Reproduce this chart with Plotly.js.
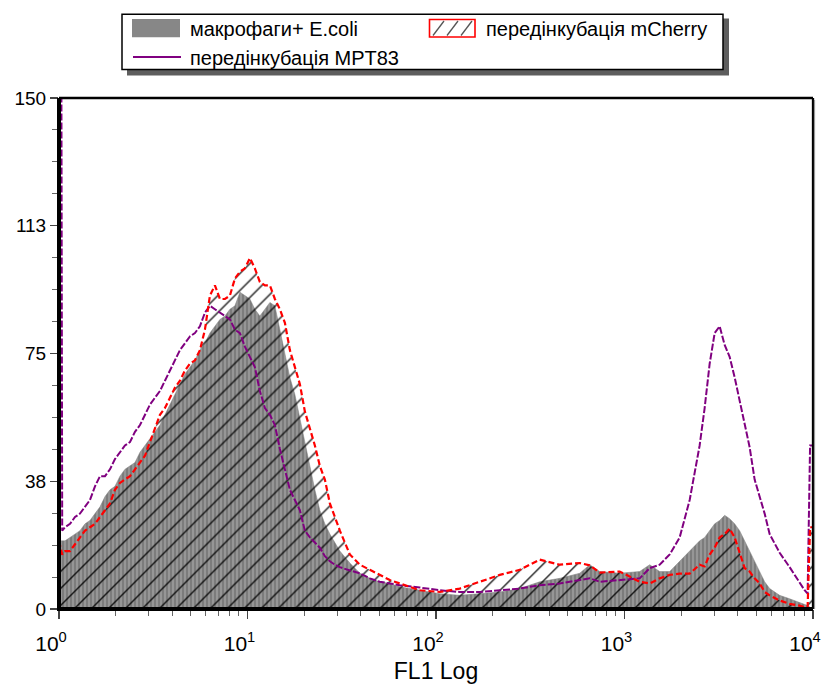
<!DOCTYPE html>
<html>
<head>
<meta charset="utf-8">
<script src="https://cdn.plot.ly/plotly-3.0.1.min.js"></script>
<style>
html,body{margin:0;padding:0;background:#fff;}
#chart{width:822px;height:684px;}
</style>
</head>
<body>
<div id="chart"></div>
<script>
// FL1 channel intensity (log scale)
var fl1 = [1.00, 1.03, 1.04, 1.076, 1.144, 1.216, 1.292, 1.374, 1.460, 1.552, 1.650, 1.754, 1.864, 1.981, 2.106, 2.238, 2.379, 2.529, 2.689, 2.858, 3.038, 3.228, 3.432, 3.648, 3.877, 4.122, 4.381, 4.657, 4.950, 5.262, 5.593, 5.945, 6.319, 6.717, 7.140, 7.590, 8.067, 8.575, 9.115, 9.687, 10.30, 10.94, 11.63, 12.37, 13.15, 13.97, 14.85, 15.79, 16.78, 17.84, 18.96, 20.15, 21.42, 22.77, 24.20, 25.73, 27.35, 29.07, 30.90, 34.91, 39.45, 44.57, 50.35, 56.89, 64.28, 82.06, 104.8, 133.7, 170.7, 217.9, 278.2, 355.2, 453.4, 578.9, 654.0, 738.8, 943.0, 1204, 1360, 1537, 1737, 1962, 2217, 2504, 2662, 2830, 3008, 3197, 3399, 3613, 3840, 4082, 4339, 4612, 4902, 5212, 5540, 5889, 6653, 7515, 8492, 9027, 9363, 9650, 10000];

// макрофаги+ E.coli (grey filled histogram)
var ecoli = [20, 20, 20, 20, 21, 22, 23, 25, 26, 28, 30, 33, 35, 36, 39, 41, 42, 43, 46, 48, 50, 52, 54, 57, 60, 63, 66, 69, 71, 73, 76, 78, 81, 83, 85, 86, 88, 89, 93, 92, 91, 88, 86, 88, 90, 89, 82, 75, 68, 63, 56, 49, 43, 35, 29, 25, 22, 19.5, 17, 13.5, 10.5, 9, 8, 7.5, 6.5, 5.5, 4.5, 4, 4.5, 5, 6, 8, 9, 10.5, 13, 11, 10.5, 11, 13, 11, 11, 14, 17, 20, 21, 23, 25, 26, 27.5, 26.5, 25, 23, 20, 17, 14, 11, 8, 6, 4, 3, 2, 1.5, 1, 0.5, 0];

// передінкубація mCherry (red outline, hatched)
var mcherry = [20, 17, 16, 17, 17, 19, 21, 23, 24, 25, 27, 29, 31, 35, 37, 38, 39, 41, 43, 45, 49, 53, 57, 59, 62, 65, 67, 70, 72, 73, 76, 82, 92, 95, 91, 91, 92, 97, 99, 100, 103, 100, 96, 95, 95, 91, 88, 84, 76, 71, 66, 58, 53, 48, 42, 38, 31, 27, 23, 16, 13, 11.5, 10, 8.5, 7.5, 5.5, 5, 6, 8, 10, 11.5, 14.5, 13, 13.5, 12.8, 10.7, 11, 8, 7.5, 9, 10, 10.4, 10.4, 13, 12.5, 16, 18, 21, 22, 23.6, 21, 16.3, 12, 11, 9, 7.5, 5, 4, 2.5, 1.5, 1, 0.5, 0.5, 24, 24];

// передінкубація MPT83 (purple line)
var mpt83 = [150, 150, 23, 24, 25, 27, 28, 30, 32, 36, 39, 39, 41, 44, 46, 48, 49, 52, 54, 57, 60, 62, 64, 67, 70, 73, 76, 78, 80, 81, 83, 87, 89, 88, 87, 86, 85, 82, 81, 77, 74, 71, 64, 59, 57, 54, 47, 41, 35, 32, 29, 23, 21, 19.5, 18, 15.5, 14, 13, 12.3, 11.3, 10.5, 9, 8, 7.5, 7, 6.3, 5.5, 5, 5, 5.5, 6, 7, 7.5, 8.5, 9, 8, 8.5, 9, 12, 13, 16, 21, 32, 48, 59, 72, 81, 83, 77.5, 74, 68, 61, 55, 47.5, 38, 33, 28, 22, 16.5, 12.3, 7.5, 5.5, 4.5, 48, 48];

var seriesNames = ['макрофаги+ E.coli', 'передінкубація mCherry', 'передінкубація MPT83'];
var xTickVals = [1, 10, 100, 1000, 10000];
var xTickText = ['10<sup>0</sup>', '10<sup>1</sup>', '10<sup>2</sup>', '10<sup>3</sup>', '10<sup>4</sup>'];
var yTickVals = [0, 37.5, 75, 112.5, 150];
var yTickText = ['0', '38', '75', '113', '150'];
var xTitle = 'FL1 Log';

// minor ticks (axis decoration)
var xMinor = [];
for (var d = 1; d < 10000; d *= 10) { for (var k = 2; k <= 9; k++) xMinor.push(d * k); }
var yMinor = [];
for (var v = 9.375; v < 150; v += 9.375) { if (Math.abs(v % 37.5) > 0.01) yMinor.push(v); }

// layout geometry (pixels) -> paper coords
var L = 59, R = 9, T = 98, B = 75, W = 822, H = 684;
var PW = W - L - R, PH = H - T - B;
function PX(px) { return (px - L) / PW; }
function PY(py) { return (H - B - py) / PH; }

var FONT = 'Liberation Sans, Arial, Helvetica, sans-serif';

var traces = [
  {
    type: 'scatter', mode: 'lines', x: fl1, y: ecoli, name: seriesNames[0],
    fill: 'tozeroy', fillcolor: '#808080',
    fillpattern: {shape: '|', bgcolor: '#7c7c7c', fgcolor: '#a8a8a8', size: 4, solidity: 0.3},
    line: {color: '#808080', width: 0.5}, showlegend: false, hoverinfo: 'skip'
  },
  {
    type: 'scatter', mode: 'lines', x: fl1, y: mcherry, name: seriesNames[1],
    fill: 'tozeroy', fillcolor: 'rgba(0,0,0,0)',
    fillpattern: {shape: '/', bgcolor: 'rgba(0,0,0,0)', fgcolor: '#000000', fgopacity: 0.85, size: 12, solidity: 0.12},
    line: {width: 0}, showlegend: false, hoverinfo: 'skip'
  },
  {
    type: 'scatter', mode: 'lines', x: fl1, y: mpt83, name: seriesNames[2],
    line: {color: '#800080', width: 2, dash: '7px,2px'}, showlegend: false, hoverinfo: 'skip'
  },
  {
    type: 'scatter', mode: 'lines', x: fl1, y: mcherry, name: seriesNames[1] + ' outline',
    line: {color: '#ff0000', width: 2.2, dash: '6px,3px'}, showlegend: false, hoverinfo: 'skip'
  }
];

var shapes = [
  // plot frame
  {type: 'line', xref: 'paper', yref: 'paper', x0: 0, x1: 0, y0: -0.004, y1: 1, line: {color: '#000', width: 4}, layer: 'above'},
  {type: 'line', xref: 'paper', yref: 'paper', x0: 0, x1: 1, y0: 0, y1: 0, line: {color: '#000', width: 4}, layer: 'above'},
  {type: 'line', xref: 'paper', yref: 'paper', x0: 0, x1: 1, y0: 1, y1: 1, line: {color: '#000', width: 2.3}, layer: 'above'},
  {type: 'line', xref: 'paper', yref: 'paper', x0: 1, x1: 1, y0: 0, y1: 1, line: {color: '#000', width: 2.3}, layer: 'above'},
  {type: 'line', xref: 'paper', yref: 'paper', x0: PX(814.5), x1: PX(814.5), y0: 0, y1: PY(100), line: {color: '#9a9a9a', width: 1.2}, layer: 'above'},
  // legend shadow and box
  {type: 'rect', xref: 'paper', yref: 'paper', x0: PX(127), x1: PX(729), y0: PY(75.5), y1: PY(18.5), fillcolor: '#5e5e5e', line: {width: 0}, layer: 'above'},
  {type: 'rect', xref: 'paper', yref: 'paper', x0: PX(122), x1: PX(723), y0: PY(69.5), y1: PY(14.3), fillcolor: '#ffffff', line: {color: '#000', width: 1.5}, layer: 'above'},
  // legend swatches
  {type: 'rect', xref: 'paper', yref: 'paper', x0: PX(132), x1: PX(180), y0: PY(37.3), y1: PY(19), fillcolor: '#878787', line: {width: 0}, layer: 'above'},
  {type: 'rect', xref: 'paper', yref: 'paper', x0: PX(429.5), x1: PX(475), y0: PY(37), y1: PY(19.5), fillcolor: '#ffffff', line: {color: '#ff0000', width: 1.6}, layer: 'above'},
  {type: 'line', xref: 'paper', yref: 'paper', x0: PX(433), x1: PX(444), y0: PY(35.5), y1: PY(21), line: {color: '#555', width: 1.3}, layer: 'above'},
  {type: 'line', xref: 'paper', yref: 'paper', x0: PX(447), x1: PX(458), y0: PY(35.5), y1: PY(21), line: {color: '#555', width: 1.3}, layer: 'above'},
  {type: 'line', xref: 'paper', yref: 'paper', x0: PX(461), x1: PX(472), y0: PY(35.5), y1: PY(21), line: {color: '#555', width: 1.3}, layer: 'above'},
  {type: 'line', xref: 'paper', yref: 'paper', x0: PX(133), x1: PX(181), y0: PY(57), y1: PY(57), line: {color: '#800080', width: 2}, layer: 'above'}
];

var annotations = [
  {xref: 'paper', yref: 'paper', x: PX(188), y: PY(29), xanchor: 'left', yanchor: 'middle', text: seriesNames[0], showarrow: false, font: {family: FONT, size: 20, color: '#000'}},
  {xref: 'paper', yref: 'paper', x: PX(484), y: PY(29), xanchor: 'left', yanchor: 'middle', text: seriesNames[1], showarrow: false, font: {family: FONT, size: 20, color: '#000'}},
  {xref: 'paper', yref: 'paper', x: PX(188), y: PY(58), xanchor: 'left', yanchor: 'middle', text: seriesNames[2], showarrow: false, font: {family: FONT, size: 20, color: '#000'}}
];

var layout = {
  width: W, height: H,
  margin: {l: L, r: R, t: T, b: B, pad: 0},
  paper_bgcolor: '#ffffff', plot_bgcolor: '#ffffff',
  font: {family: FONT, color: '#000'},
  showlegend: false,
  xaxis: {
    type: 'log', range: [0, 4], showgrid: false, zeroline: false, showline: false,
    tickmode: 'array', tickvals: xTickVals, ticktext: xTickText,
    ticks: 'outside', ticklen: 9, tickwidth: 1.3, tickcolor: '#444',
    tickfont: {family: FONT, size: 21, color: '#000'},
    ticklabelshift: -8, ticklabelstandoff: 7,
    minor: {tickmode: 'array', tickvals: xMinor, ticks: 'outside', ticklen: 6, tickwidth: 1, tickcolor: '#666', showgrid: false},
    title: {text: xTitle, font: {family: FONT, size: 23, color: '#000'}, standoff: 10},
    automargin: false, fixedrange: true
  },
  yaxis: {
    range: [0, 150], showgrid: false, zeroline: false, showline: false,
    tickmode: 'array', tickvals: yTickVals, ticktext: yTickText,
    ticks: 'outside', ticklen: 8, tickwidth: 1.3, tickcolor: '#444',
    tickfont: {family: FONT, size: 19, color: '#000'},
    minor: {tickmode: 'array', tickvals: yMinor, ticks: 'outside', ticklen: 6, tickwidth: 1, tickcolor: '#666', showgrid: false},
    automargin: false, fixedrange: true
  },
  shapes: shapes,
  annotations: annotations
};

Plotly.newPlot('chart', traces, layout, {staticPlot: true, displayModeBar: false});
</script>
</body>
</html>
